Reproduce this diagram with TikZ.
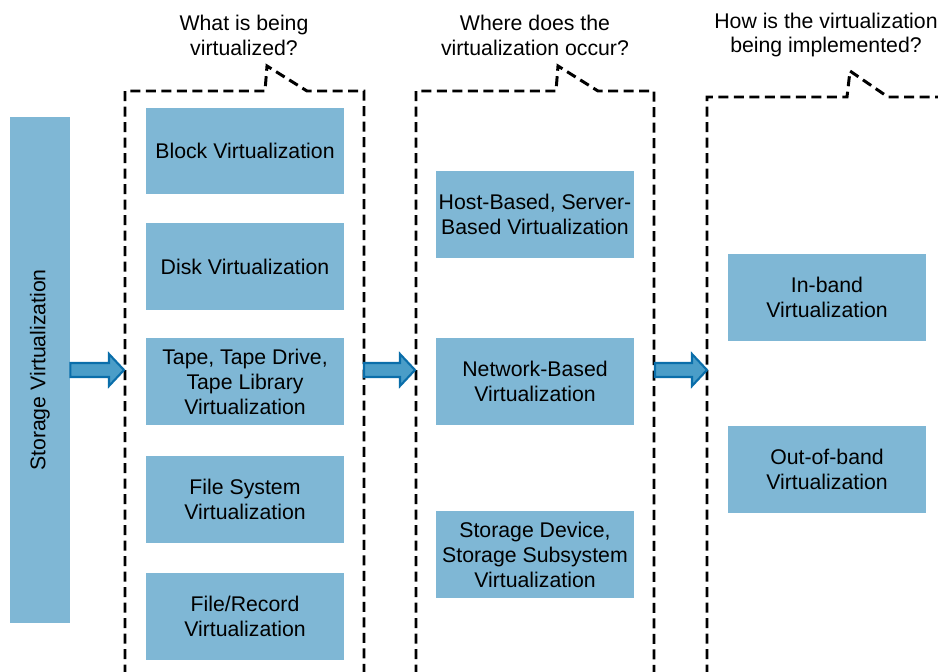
\documentclass[tikz,border=0pt]{standalone}
\usepackage{fontspec}
\setmainfont{Liberation Sans}
\usepackage{tikz}
\usetikzlibrary{calc}
\usepackage{xcolor}
\definecolor{svbox}{RGB}{127,183,213}
\definecolor{svarrowfill}{RGB}{74,157,200}
\definecolor{svarrowline}{RGB}{10,110,170}

\begin{document}
\begin{tikzpicture}[x=0.02cm, y=-0.02cm,
  txt/.style={font=\fontsize{12.1}{14.2}\selectfont, align=center, inner sep=0pt},
  vbox/.style={txt, fill=svbox, minimum width=3.96cm, minimum height=1.74cm},
  frame/.style={line width=1.7pt, dash pattern=on 0.2cm off 0.11cm},
  flowarrow/.style={fill=svarrowfill, draw=svarrowline, line width=1.2pt, line join=miter}]
  \useasboundingbox (0,0) rectangle (938,672);
  \clip (0,0) rectangle (938,672);

  % left bar
  \node[txt, fill=svbox, minimum width=1.2cm, minimum height=10.12cm] (sv) at (40,370) {};
  \node[txt, rotate=90] (svlabel) at (sv.center) {Storage Virtualization};

  % dashed callout frames
  \draw[frame] (125,690) -- (125,91) -- (265,91) -- (267,66) -- (307,91) -- (364,91) -- (364,690);
  \draw[frame] (416,690) -- (416,91) -- (556,91) -- (558,66) -- (598,91) -- (654,91) -- (654,690);
  \draw[frame] (707,690) -- (707,97) -- (847,97) -- (850,71) -- (888,97) -- (950,97);

  \coordinate (f1w) at (124,370); \coordinate (f1e) at (364,370);
  \coordinate (f2w) at (415,370); \coordinate (f2e) at (655,370);
  \coordinate (f3w) at (707,370);

  % questions
  \node[txt] (q1) at (244,35) {What is being\\virtualized?};
  \node[txt] (q2) at (535,35) {Where does the\\virtualization occur?};
  \node[txt] (q3) at (826,35) {How is the virtualization\\being implemented?};

  % what
  \node[vbox] (block) at (245,151) {Block Virtualization};
  \node[vbox] (disk) at (245,266.5) {Disk Virtualization};
  \node[vbox] (tape) at (245,381.5) {Tape, Tape Drive,\\Tape Library\\Virtualization};
  \node[vbox] (fsys) at (245,499.5) {File System\\Virtualization};
  \node[vbox] (frec) at (245,616.5) {File/Record\\Virtualization};

  % where
  \node[vbox] (host) at (535,214.5) {Host-Based, Server-\\Based Virtualization};
  \node[vbox] (net) at (535,381.5) {Network-Based\\Virtualization};
  \node[vbox] (stor) at (535,554.5) {Storage Device,\\Storage Subsystem\\Virtualization};

  % how
  \node[vbox] (inband) at (827,297.5) {In-band\\Virtualization};
  \node[vbox] (outband) at (827,469.5) {Out-of-band\\Virtualization};

  % block arrows
  \foreach \s/\t in {sv.east/f1w, f1e/f2w, f2e/f3w}
    \draw[flowarrow] ($(\s)+(0,-7)$) -- ($(\t)+(-15,-7)$) -- ($(\t)+(-15,-16)$) -- (\t)
      -- ($(\t)+(-15,16)$) -- ($(\t)+(-15,7)$) -- ($(\s)+(0,7)$) -- cycle;
\end{tikzpicture}
\end{document}
